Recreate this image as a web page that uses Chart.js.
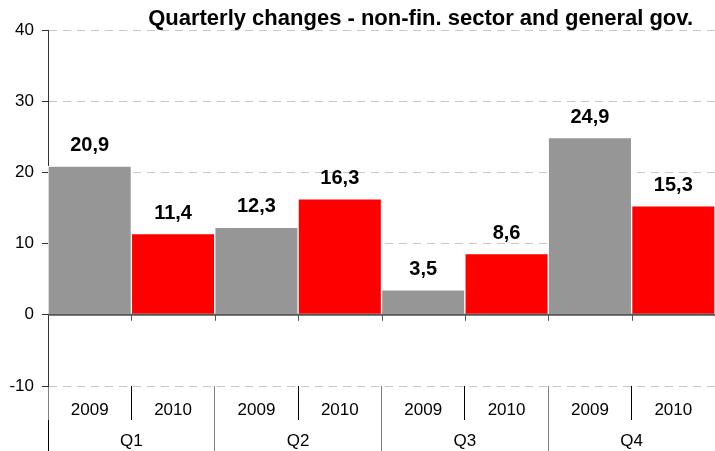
<!DOCTYPE html>
<html>
<head>
<meta charset="utf-8">
<script src="https://cdn.jsdelivr.net/npm/chart.js@4"></script>
<style>
  html, body { margin: 0; padding: 0; background: #fff; }
  #wrap { width: 715px; height: 451px; }
</style>
</head>
<body>
<div id="wrap"><canvas id="chart" width="715" height="451"></canvas></div>
<script>
const quarters = ['Q1', 'Q2', 'Q3', 'Q4'];
const years = ['2009', '2010'];
const values2009 = [20.9, 12.3, 3.5, 24.9];
const values2010 = [11.4, 16.3, 8.6, 15.3];
const yTicks = [-10, 0, 10, 20, 30, 40];
const title = 'Quarterly changes - non-fin. sector and general gov.';

const GRAY = '#969696';
const RED = '#ff0000';

// one bar per (quarter, year), in quarter order
const barLabels = [];
const barValues = [];
const barYears = [];
quarters.forEach((q, i) => {
  barLabels.push(years[0]); barValues.push(values2009[i]); barYears.push(years[0]);
  barLabels.push(years[1]); barValues.push(values2010[i]); barYears.push(years[1]);
});

Chart.defaults.font.family = '"Liberation Sans", Arial, sans-serif';
Chart.defaults.color = '#000';

const titlePlugin = {
  id: 'titleText',
  afterDraw(chart) {
    const ctx = chart.ctx;
    ctx.save();
    ctx.font = 'bold 22px "Liberation Sans", Arial, sans-serif';
    ctx.fillStyle = '#000';
    ctx.textAlign = 'right';
    ctx.textBaseline = 'alphabetic';
    ctx.fillText(title, 693, 25);
    ctx.restore();
  }
};

const zeroLinePlugin = {
  id: 'zeroLine',
  afterDatasetsDraw(chart) {
    const { ctx, chartArea, scales } = chart;
    const y0 = scales.y.getPixelForValue(0);
    const half = (scales.x.getPixelForValue(1) - scales.x.getPixelForValue(0)) / 2;
    ctx.save();
    ctx.strokeStyle = '#555';
    ctx.lineWidth = 1;
    for (let i = 1; i < barValues.length; i++) {
      const x = Math.round(scales.x.getPixelForValue(i) - half) + 0.5;
      ctx.beginPath();
      ctx.moveTo(x, y0);
      ctx.lineTo(x, y0 + 6);
      ctx.stroke();
    }
    ctx.lineWidth = 2;
    ctx.beginPath();
    ctx.moveTo(chartArea.left, y0);
    ctx.lineTo(chartArea.right, y0);
    ctx.stroke();
    ctx.restore();
  }
};

const valueLabelPlugin = {
  id: 'valueLabels',
  afterDatasetsDraw(chart) {
    const ctx = chart.ctx;
    const meta = chart.getDatasetMeta(0);
    ctx.save();
    ctx.font = 'bold 20px "Liberation Sans", Arial, sans-serif';
    ctx.fillStyle = '#000';
    ctx.textAlign = 'center';
    ctx.textBaseline = 'alphabetic';
    meta.data.forEach((bar, i) => {
      const txt = barValues[i].toFixed(1).replace('.', ',');
      ctx.fillText(txt, bar.x, bar.y - 15);
    });
    ctx.restore();
  }
};

new Chart(document.getElementById('chart'), {
  type: 'bar',
  data: {
    labels: barLabels,
    datasets: [{
      data: barValues,
      backgroundColor: ctx => barYears[ctx.dataIndex] === years[0] ? GRAY : RED,
      borderColor: '#fff',
      borderWidth: 1,
      borderSkipped: false,
      barPercentage: 1,
      categoryPercentage: 1
    }]
  },
  options: {
    responsive: false,
    animation: false,
    layout: { padding: { top: 30, right: 0, left: 0, bottom: 0 } },
    plugins: {
      legend: { display: false },
      tooltip: { enabled: false }
    },
    scales: {
      x: {
        type: 'category',
        position: 'bottom',
        offset: true,
        border: { display: false },
        grid: {
          offset: true,
          drawOnChartArea: false,
          tickLength: 34,
          color: ctx => ctx.index === undefined ? 'rgba(0,0,0,0)' : (ctx.index % 2 === 0 ? '#808080' : '#000'),
          lineWidth: 1
        },
        ticks: {
          font: { size: 17 },
          color: '#000',
          padding: -20,
          maxRotation: 0,
          autoSkip: false
        },
        afterFit(scale) { scale.height = 34; }
      },
      xq: {
        type: 'category',
        position: 'bottom',
        labels: quarters,
        offset: true,
        border: { display: false },
        grid: {
          offset: true,
          drawOnChartArea: false,
          tickLength: 31,
          color: ctx => ctx.index === undefined ? 'rgba(0,0,0,0)' : (ctx.index === 0 ? '#000' : '#808080'),
          lineWidth: 1
        },
        ticks: {
          font: { size: 17 },
          color: '#000',
          padding: -20,
          maxRotation: 0,
          autoSkip: false
        },
        afterFit(scale) { scale.height = 31; }
      },
      y: {
        min: yTicks[0],
        max: yTicks[yTicks.length - 1],
        border: { display: true, color: '#333', width: 1, dash: [8, 6] },
        grid: {
          color: ctx => ctx.tick && ctx.tick.value === 0 ? 'rgba(0,0,0,0)' : '#c8c8c8',
          tickColor: '#333',
          tickLength: 6,
          lineWidth: 1
        },
        ticks: {
          stepSize: 10,
          font: { size: 17 },
          color: '#000',
          padding: 8
        },
        afterBuildTicks(scale) { scale.ticks = yTicks.map(v => ({ value: v })); },
        afterFit(scale) { scale.width = 48; }
      }
    }
  },
  plugins: [titlePlugin, zeroLinePlugin, valueLabelPlugin]
});
</script>
</body>
</html>
